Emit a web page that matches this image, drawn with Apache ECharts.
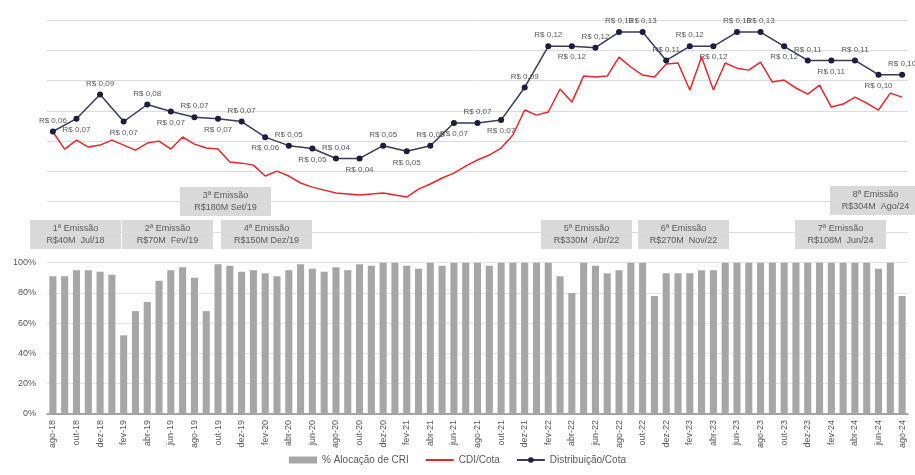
<!DOCTYPE html>
<html>
<head>
<meta charset="utf-8">
<script src="https://cdn.jsdelivr.net/npm/echarts@6/dist/echarts.min.js"></script>
<style>
  html, body { margin: 0; padding: 0; background: #fff; }
  #chart { width: 915px; height: 475px; }
</style>
</head>
<body>
<div id="chart"></div>
<script>
// months ago-18 .. ago-24 (one per bar)
const months = [
  'ago-18','set-18','out-18','nov-18','dez-18',
  'jan-19','fev-19','mar-19','abr-19','mai-19','jun-19','jul-19','ago-19','set-19','out-19','nov-19','dez-19',
  'jan-20','fev-20','mar-20','abr-20','mai-20','jun-20','jul-20','ago-20','set-20','out-20','nov-20','dez-20',
  'jan-21','fev-21','mar-21','abr-21','mai-21','jun-21','jul-21','ago-21','set-21','out-21','nov-21','dez-21',
  'jan-22','fev-22','mar-22','abr-22','mai-22','jun-22','jul-22','ago-22','set-22','out-22','nov-22','dez-22',
  'jan-23','fev-23','mar-23','abr-23','mai-23','jun-23','jul-23','ago-23','set-23','out-23','nov-23','dez-23',
  'jan-24','fev-24','mar-24','abr-24','mai-24','jun-24','jul-24','ago-24'
];

// % Alocação de CRI (monthly)
const allocValues = [
  91, 91, 95, 95, 94, 92, 52, 68, 74, 88, 95, 97, 90, 68, 99, 98, 94, 95, 93, 91,
  95, 99, 96, 94, 97, 95, 99, 98, 100, 100, 98, 96, 100, 98, 100,
  100, 100, 98, 100, 100, 100, 100, 100, 91, 80, 100, 98, 93, 95, 100, 100, 78,
  93, 93, 93, 95, 95,
  100, 100, 100, 100, 100, 100, 100, 100, 100, 100, 100, 100, 100, 96, 100, 78
];

// CDI/Cota (monthly)
const cdiValues = [
  0.0596, 0.0476, 0.0539, 0.0490, 0.0504, 0.0539, 0.0504, 0.0469, 0.0518, 0.0532,
  0.0476, 0.0561, 0.0511, 0.0483, 0.0476, 0.0385, 0.0377, 0.0363, 0.0286, 0.0321,
  0.0286, 0.0237, 0.0208, 0.0187, 0.0166, 0.0159, 0.0152, 0.0159, 0.0166, 0.0152,
  0.0138, 0.0194, 0.0230, 0.0272, 0.0307, 0.0356, 0.0399, 0.0434, 0.0483, 0.0575,
  0.0751, 0.0715, 0.0737, 0.0899, 0.0807, 0.0990, 0.0983, 0.0990, 0.1124, 0.1054,
  0.0997, 0.0983, 0.1075, 0.1082, 0.0892, 0.1124, 0.0892, 0.1082, 0.1046, 0.1032,
  0.1089, 0.0948, 0.0962, 0.0906, 0.0863, 0.0927, 0.0772, 0.0793, 0.0842, 0.0800,
  0.0751, 0.0870, 0.0842
];

// Distribuição/Cota (every second month, starting ago-18)
const distValues = [
  0.060, 0.069, 0.086, 0.067, 0.079, 0.074, 0.070, 0.069, 0.067, 0.056,
  0.050, 0.048, 0.041, 0.041, 0.050, 0.046, 0.050, 0.066, 0.066, 0.068,
  0.091, 0.120, 0.120, 0.119, 0.130, 0.130, 0.110, 0.120, 0.120, 0.130,
  0.130, 0.120, 0.110, 0.110, 0.110, 0.100, 0.100
];

const emissions = [
  ['1ª Emissão', 'R$40M  Jul/18'],
  ['2ª Emissão', 'R$70M  Fev/19'],
  ['3ª Emissão', 'R$180M Set/19'],
  ['4ª Emissão', 'R$150M Dez/19'],
  ['5ª Emissão', 'R$330M  Abr/22'],
  ['6ª Emissão', 'R$270M  Nov/22'],
  ['7ª Emissão', 'R$108M  Jun/24'],
  ['8ª Emissão', 'R$304M  Ago/24']
];

const allocTicks = [0, 20, 40, 60, 80, 100];

// layout only
const boxPos = [[30, 220], [122, 220], [180, 187], [221, 220], [541, 220], [638, 220], [795, 220], [830, 186]];
const labelBelow = [1, 3, 5, 7, 9, 11, 13, 15, 17, 19, 22, 28, 31, 33, 35];

const FONT = '"Liberation Sans Narrow", "Liberation Sans", Arial, sans-serif';
const TXT = '#595959';

const chart = echarts.init(document.getElementById('chart'));

const money = v => 'R$ ' + v.toFixed(2).replace('.', ',');

const option = {
  animation: false,
  textStyle: { fontFamily: FONT },
  grid: [
    { left: 47, right: 7, top: 20, height: 212 },
    { left: 47, right: 7, top: 262.7, height: 151.3 }
  ],
  xAxis: [
    { type: 'category', gridIndex: 0, data: months, show: false },
    {
      type: 'category', gridIndex: 1, data: months,
      axisLine: { lineStyle: { color: '#8c8c8c', width: 1.5 } },
      axisTick: { show: false },
      axisLabel: { rotate: 90, interval: 1, fontSize: 9, color: TXT, margin: 6, fontFamily: FONT }
    }
  ],
  yAxis: [
    { type: 'value', gridIndex: 0, min: -0.0108, max: 0.1385, show: false },
    {
      type: 'value', gridIndex: 0, min: 0, max: 7, interval: 1,
      axisLabel: { show: false }, axisLine: { show: false }, axisTick: { show: false },
      splitLine: { lineStyle: { color: '#dcdcdc', width: 1 } }
    },
    {
      type: 'value', gridIndex: 1, min: allocTicks[0], max: allocTicks[allocTicks.length - 1], interval: 20,
      axisLabel: { formatter: '{value}%', fontSize: 9, color: TXT, margin: 11, fontFamily: FONT },
      axisLine: { show: false }, axisTick: { show: false },
      splitLine: { lineStyle: { color: '#e3e3e3', width: 1 } }
    }
  ],
  legend: {
    bottom: 5,
    left: 'center',
    itemWidth: 28,
    itemHeight: 7,
    itemGap: 16,
    textStyle: { fontSize: 10, color: TXT, fontFamily: FONT },
    data: [
      { name: '% Alocação de CRI', icon: 'rect', itemStyle: { color: '#a6a6a6' } },
      { name: 'CDI/Cota', itemStyle: { opacity: 0 } },
      { name: 'Distribuição/Cota' }
    ]
  },
  series: [
    {
      name: '% Alocação de CRI',
      type: 'bar',
      xAxisIndex: 1,
      yAxisIndex: 2,
      barWidth: '60%',
      itemStyle: { color: '#a6a6a6' },
      data: allocValues
    },
    {
      name: 'CDI/Cota',
      type: 'line',
      xAxisIndex: 0,
      yAxisIndex: 0,
      symbol: 'none',
      lineStyle: { color: '#e8262b', width: 1.5 },
      itemStyle: { color: '#e8262b' },
      data: cdiValues,
      z: 3
    },
    {
      name: 'Distribuição/Cota',
      type: 'line',
      xAxisIndex: 0,
      yAxisIndex: 0,
      symbol: 'circle',
      symbolSize: 6,
      lineStyle: { color: '#3a3a5e', width: 1.5 },
      itemStyle: { color: '#1d1d3f' },
      label: {
        show: true,
        fontSize: 8,
        color: TXT,
        fontFamily: FONT,
        distance: 4,
        formatter: p => money(p.value[1])
      },
      data: distValues.map((v, i) => ({
        value: [i * 2, v],
        label: { position: labelBelow.includes(i) ? 'bottom' : 'top' }
      })),
      z: 4
    }
  ],
  graphic: emissions.map((e, i) => ({
    type: 'group',
    left: boxPos[i][0],
    top: boxPos[i][1],
    children: [
      { type: 'rect', shape: { x: 0, y: 0, width: 91, height: 29 }, style: { fill: '#d9d9d9' } },
      {
        type: 'text', x: 45.5, y: 14.5,
        style: {
          text: e[0] + '\n' + e[1], align: 'center', verticalAlign: 'middle',
          fontSize: 9, lineHeight: 12, fill: TXT, fontFamily: FONT
        }
      }
    ]
  }))
};

chart.setOption(option);
</script>
</body>
</html>
